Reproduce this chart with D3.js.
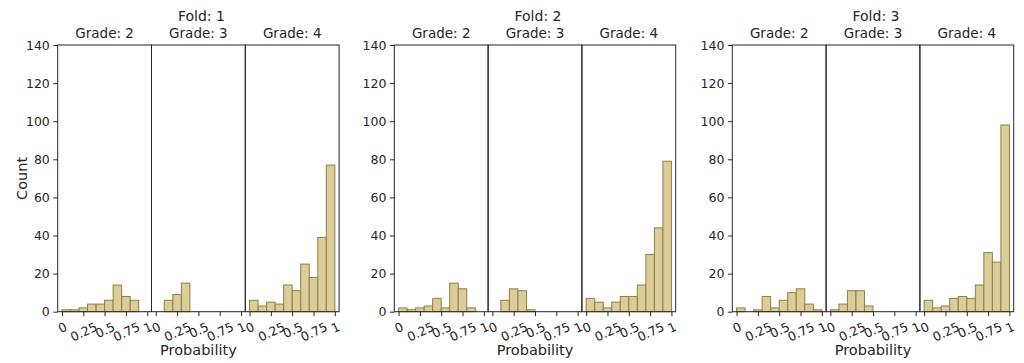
<!DOCTYPE html>
<html>
<head>
<meta charset="utf-8">
<script src="https://cdn.jsdelivr.net/npm/d3@7"></script>
<style>
  body { margin: 0; background: #fff; }
  text { font-family: "DejaVu Sans", sans-serif; fill: #262626; }
</style>
</head>
<body>
<script>
// histogram data: 10 bins of width 0.1 per panel
var binEdges = [0, 0.1, 0.2, 0.3, 0.4, 0.5, 0.6, 0.7, 0.8, 0.9, 1.0];

var folds = ["1", "2", "3"];
var grades = ["2", "3", "4"];

var fold1Grade2 = [1, 1, 2, 4, 4, 6, 14, 8, 6, 0];
var fold1Grade3 = [0, 6, 9, 15, 0, 0, 0, 0, 0, 0];
var fold1Grade4 = [6, 3, 5, 4, 14, 11, 25, 18, 39, 77];

var fold2Grade2 = [2, 1, 2, 3, 7, 2, 15, 12, 2, 0];
var fold2Grade3 = [0, 6, 12, 11, 1, 0, 0, 0, 0, 0];
var fold2Grade4 = [7, 5, 2, 5, 8, 8, 14, 30, 44, 79];

var fold3Grade2 = [2, 0, 1, 8, 2, 6, 10, 12, 4, 1];
var fold3Grade3 = [1, 4, 11, 11, 3, 0, 0, 0, 0, 0];
var fold3Grade4 = [6, 2, 3, 7, 8, 7, 14, 31, 26, 98];

var xTicks = [0, 0.25, 0.5, 0.75, 1];
var xTickLabels = ["0", "0.25", "0.5", "0.75", "1"];
var yTicks = [0, 20, 40, 60, 80, 100, 120, 140];

var counts = [
  [fold1Grade2, fold1Grade3, fold1Grade4],
  [fold2Grade2, fold2Grade3, fold2Grade4],
  [fold3Grade2, fold3Grade3, fold3Grade4]
];

// layout
var width = 1024, height = 363;
var foldLeft = [57.7, 394.3, 732.3];
var panelW = 93.8;
var plotTop = 45, plotBottom = 311.7;
var tickLen = 4.4, tickPad = 3.5;
var rot = 25;
var barFill = "#dccc9a", barEdge = "#8f7f40", ink = "#262626";

var svg = d3.select("body").append("svg")
    .attr("width", width)
    .attr("height", height);

var y = d3.scaleLinear().domain([0, 140]).range([plotBottom, plotTop]);

folds.forEach(function(fold, f) {
  var foldX0 = foldLeft[f];
  var foldX1 = foldX0 + panelW * grades.length;

  grades.forEach(function(grade, g) {
    var x0 = foldX0 + g * panelW;
    var x = d3.scaleLinear().domain([-0.05, 1.05]).range([x0, x0 + panelW]);
    var panel = svg.append("g");

    var bins = counts[f][g].map(function(n, i) {
      return {lo: binEdges[i], hi: binEdges[i + 1], n: n};
    });

    panel.selectAll("rect.bar")
      .data(bins)
      .enter().append("rect")
      .attr("class", "bar")
      .attr("x", function(d) { return x(d.lo); })
      .attr("width", function(d) { return x(d.hi) - x(d.lo); })
      .attr("y", function(d) { return y(d.n); })
      .attr("height", function(d) { return y(0) - y(d.n); })
      .attr("fill", barFill)
      .attr("stroke", barEdge)
      .attr("stroke-width", 1);

    // x axis
    var xAxis = panel.append("g")
      .attr("transform", "translate(0," + plotBottom + ")")
      .call(d3.axisBottom(x)
        .tickValues(xTicks)
        .tickFormat(function(d, i) { return xTickLabels[i]; })
        .tickSize(tickLen)
        .tickSizeOuter(0));
    xAxis.select(".domain").remove();
    xAxis.selectAll("line").attr("stroke", ink);
    xAxis.selectAll("text")
      .attr("fill", ink)
      .style("font-size", "12.5px")
      .attr("y", null)
      .attr("dy", null)
      .attr("text-anchor", "middle")
      .attr("dominant-baseline", "central")
      .attr("transform", function() {
        var w = this.getComputedTextLength();
        var h = 12.5 * 1.1;
        var a = rot * Math.PI / 180;
        var H = w * Math.sin(a) + h * Math.cos(a);
        return "translate(0," + (tickLen + tickPad + H / 2) + ") rotate(" + (-rot) + ")";
      });

    // y axis only on first panel of each fold
    if (g === 0) {
      var yAxis = panel.append("g")
        .attr("transform", "translate(" + x0 + ",0)")
        .call(d3.axisLeft(y)
          .tickValues(yTicks)
          .tickSize(tickLen)
          .tickPadding(tickPad)
          .tickSizeOuter(0));
      yAxis.select(".domain").remove();
      yAxis.selectAll("line").attr("stroke", ink);
      yAxis.selectAll("text").attr("fill", ink).style("font-size", "12.5px");
    }

    // frame
    panel.append("rect")
      .attr("x", x0)
      .attr("y", plotTop)
      .attr("width", panelW)
      .attr("height", plotBottom - plotTop)
      .attr("fill", "none")
      .attr("stroke", ink)
      .attr("stroke-width", 1);

    panel.append("text")
      .attr("x", x0 + panelW / 2)
      .attr("y", 37.5)
      .attr("text-anchor", "middle")
      .style("font-size", "13.5px")
      .text("Grade: " + grade);
  });

  svg.append("text")
    .attr("x", (foldX0 + foldX1) / 2 + 3)
    .attr("y", 20.7)
    .attr("text-anchor", "middle")
    .style("font-size", "14px")
    .text("Fold: " + fold);

  svg.append("text")
    .attr("x", (foldX0 + foldX1) / 2)
    .attr("y", 355)
    .attr("text-anchor", "middle")
    .style("font-size", "14.5px")
    .text("Probability");

  if (f === 0) {
    svg.append("text")
      .attr("transform", "translate(27," + ((plotTop + plotBottom) / 2) + ") rotate(-90)")
      .attr("text-anchor", "middle")
      .style("font-size", "14.5px")
      .text("Count");
  }
});
</script>
</body>
</html>
